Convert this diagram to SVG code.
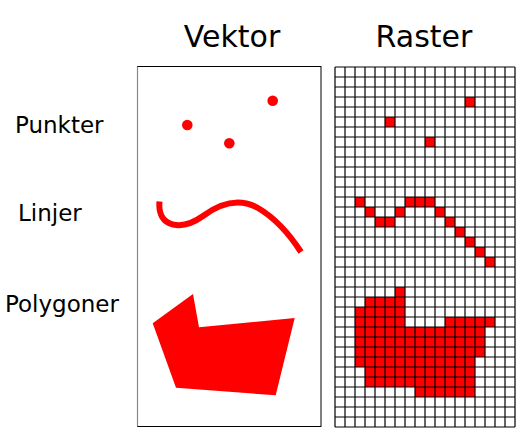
<svg xmlns="http://www.w3.org/2000/svg" width="525" height="439" viewBox="0 0 525 439">
<style>
text{font-family:"DejaVu Sans","Verdana",sans-serif;fill:#000}
.h{font-size:30px;text-anchor:middle}
.l{font-size:23px}
.red{fill:#f00}
</style>
<rect width="525" height="439" fill="#fff"/>
<g id="titles">
<text class="h" x="232" y="47">Vektor</text>
<text class="h" x="424" y="47">Raster</text>
</g>
<g id="labels">
<text class="l" x="15" y="133">Punkter</text>
<text class="l" x="18" y="221">Linjer</text>
<text class="l" x="5" y="312">Polygoner</text>
</g>
<g id="vektor">
<rect x="137.5" y="66.5" width="183.5" height="360" fill="#fff" stroke="#000" stroke-width="1"/>
<line x1="137.5" y1="66.5" x2="137.5" y2="426.5" stroke="#888" stroke-width="1.2"/>
<circle class="red" cx="272.7" cy="100.7" r="5.3"/>
<circle class="red" cx="187.3" cy="125" r="5.3"/>
<circle class="red" cx="229.3" cy="143.3" r="5.3"/>
<path d="M159.5 201.5 C157 228 182 231 203 216 C222 202 240 198 258 208 C275 218 290 235 301 252" fill="none" stroke="#f00" stroke-width="6"/>
<polygon class="red" points="152.7,323.3 193,294 199,327.3 294.7,318 275.7,395.3 176,387.7"/>
</g>
<g id="raster">
<rect x="335" y="67" width="180" height="360" fill="#fff"/>
<g class="red">
<rect x="465" y="97" width="10" height="10"/>
<rect x="385" y="117" width="10" height="10"/>
<rect x="425" y="137" width="10" height="10"/>
<rect x="355" y="197" width="10" height="10"/>
<rect x="405" y="197" width="30" height="10"/>
<rect x="365" y="207" width="10" height="10"/>
<rect x="395" y="207" width="10" height="10"/>
<rect x="435" y="207" width="10" height="10"/>
<rect x="375" y="217" width="20" height="10"/>
<rect x="445" y="217" width="10" height="10"/>
<rect x="455" y="227" width="10" height="10"/>
<rect x="465" y="237" width="10" height="10"/>
<rect x="475" y="247" width="10" height="10"/>
<rect x="485" y="257" width="10" height="10"/>
<rect x="395" y="287" width="10" height="10"/>
<rect x="365" y="297" width="40" height="10"/>
<rect x="355" y="307" width="50" height="10"/>
<rect x="355" y="317" width="50" height="10"/>
<rect x="445" y="317" width="50" height="10"/>
<rect x="355" y="327" width="130" height="30"/>
<rect x="355" y="357" width="120" height="10"/>
<rect x="365" y="367" width="110" height="20"/>
<rect x="415" y="387" width="60" height="10"/>
</g>
<path fill="none" stroke="#000" stroke-width="1.2" d="M335 67V427M345 67V427M355 67V427M365 67V427M375 67V427M385 67V427M395 67V427M405 67V427M415 67V427M425 67V427M435 67V427M445 67V427M455 67V427M465 67V427M475 67V427M485 67V427M495 67V427M505 67V427M515 67V427M335 67H515M335 77H515M335 87H515M335 97H515M335 107H515M335 117H515M335 127H515M335 137H515M335 147H515M335 157H515M335 167H515M335 177H515M335 187H515M335 197H515M335 207H515M335 217H515M335 227H515M335 237H515M335 247H515M335 257H515M335 267H515M335 277H515M335 287H515M335 297H515M335 307H515M335 317H515M335 327H515M335 337H515M335 347H515M335 357H515M335 367H515M335 377H515M335 387H515M335 397H515M335 407H515M335 417H515M335 427H515"/>
</g>
</svg>
